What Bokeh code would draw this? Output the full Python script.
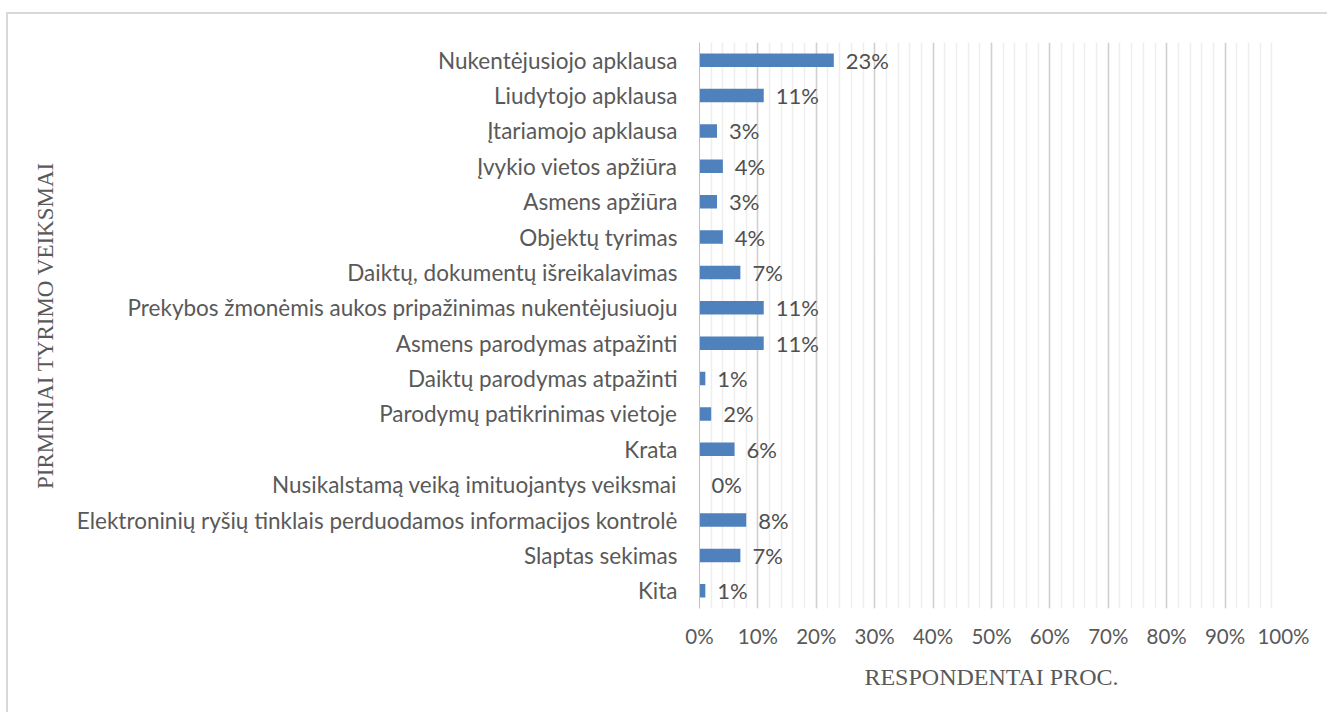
from bokeh.plotting import figure
from bokeh.models import ColumnDataSource, SingleIntervalTicker, PrintfTickFormatter, Range1d
from bokeh.core.properties import value
from bokeh.embed import file_html
from bokeh.resources import INLINE

categories = [
    "Nukentėjusiojo apklausa",
    "Liudytojo apklausa",
    "Įtariamojo apklausa",
    "Įvykio vietos apžiūra",
    "Asmens apžiūra",
    "Objektų tyrimas",
    "Daiktų, dokumentų išreikalavimas",
    "Prekybos žmonėmis aukos pripažinimas nukentėjusiuoju",
    "Asmens parodymas atpažinti",
    "Daiktų parodymas atpažinti",
    "Parodymų patikrinimas vietoje",
    "Krata",
    "Nusikalstamą veiką imituojantys veiksmai",
    "Elektroninių ryšių tinklais perduodamos informacijos kontrolė",
    "Slaptas sekimas",
    "Kita",
]
values = [23, 11, 3, 4, 3, 4, 7, 11, 11, 1, 2, 6, 0, 8, 7, 1]
labels = [f"{v}%" for v in values]

source = ColumnDataSource(dict(cat=categories, val=values, lab=labels))

FONT = "Lato"
SERIF = "Liberation Serif"

p = figure(
    width=1321, height=700,
    y_range=list(reversed(categories)),
    x_range=Range1d(0, 100),
    output_backend="svg", toolbar_location=None,
    min_border_left=691, min_border_right=46,
    min_border_top=28, min_border_bottom=106,
)
p.margin = (14, 0, 0, 8)
p.styles = {"box-shadow": "-2px -2px 0 0 #d9d9d9"}
p.outline_line_color = None

p.hbar(y="cat", right="val", left=0, height=0.38, source=source,
       fill_color="#4f81bd", line_color=None)
p.text(x="val", y="cat", text="lab", source=source, x_offset=12,
       text_align="left", text_baseline="middle",
       text_font=value(FONT), text_font_size="22px", text_color="#505050")

p.xaxis.ticker = SingleIntervalTicker(interval=10, num_minor_ticks=5)
p.xaxis.formatter = PrintfTickFormatter(format="%d%%")
p.xaxis.axis_line_color = None
p.xaxis.major_tick_line_color = None
p.xaxis.minor_tick_line_color = None
p.xaxis.major_label_standoff = 9
p.xaxis.major_label_text_font = FONT
p.xaxis.major_label_text_font_size = "20.5px"
p.xaxis.major_label_text_color = "#595959"
p.xaxis.axis_label = "RESPONDENTAI PROC."
p.xaxis.axis_label_text_font = SERIF
p.xaxis.axis_label_text_font_style = "normal"
p.xaxis.axis_label_text_font_size = "24px"
p.xaxis.axis_label_text_color = "#595959"
p.xaxis.axis_label_standoff = 13

p.yaxis.axis_line_color = "#bfbfbf"
p.yaxis.major_tick_line_color = None
p.yaxis.minor_tick_line_color = None
p.yaxis.major_label_standoff = 16
p.yaxis.major_label_text_font = FONT
p.yaxis.major_label_text_font_size = "22.5px"
p.yaxis.major_label_text_color = "#595959"
p.yaxis.axis_label = "PIRMINIAI TYRIMO VEIKSMAI"
p.yaxis.axis_label_text_font = SERIF
p.yaxis.axis_label_text_font_style = "normal"
p.yaxis.axis_label_text_font_size = "23px"
p.yaxis.axis_label_text_color = "#595959"
p.yaxis.axis_label_standoff = 16

p.ygrid.grid_line_color = None
p.xgrid.grid_line_color = "#d0d0d0"
p.xgrid.grid_line_width = 1.5
p.xgrid.minor_grid_line_color = "#eeeeee"
p.xgrid.minor_grid_line_width = 1.5

p.y_range.range_padding = 0

open("out.html", "w").write(file_html(p, INLINE))
